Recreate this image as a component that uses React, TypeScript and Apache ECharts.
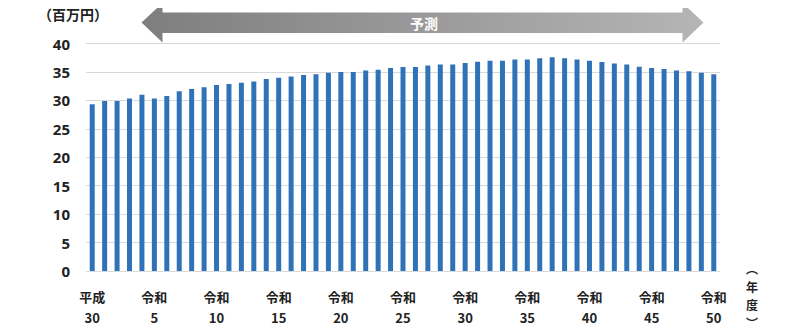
import React, { useEffect, useRef } from "react";
import * as echarts from "echarts";

const eras: string[] = ["平成", ...Array.from({ length: 50 }, () => "令和")];
const yearNums: number[] = [30, ...Array.from({ length: 50 }, (_, i) => i + 1)];
const categories: string[] = eras.map((e, i) => `${e}\n${yearNums[i]}`);

const values: number[] = [
  29.3, 29.9, 29.9, 30.35, 31.0, 30.35, 30.75, 31.6, 32.0, 32.3,
  32.7, 32.9, 33.1, 33.3, 33.75, 34.0, 34.2, 34.45, 34.6, 34.85,
  35.0, 35.0, 35.25, 35.4, 35.7, 35.85, 35.85, 36.15, 36.3, 36.3,
  36.55, 36.8, 36.95, 36.95, 37.2, 37.2, 37.4, 37.6, 37.4, 37.2,
  36.95, 36.75, 36.5, 36.3, 35.9, 35.7, 35.5, 35.25, 35.1, 34.85,
  34.6,
];

const unitLabel = "（百万円）";
const forecastLabel = "予測";
const xAxisUnitChars: string[] = ["︵", "年", "度", "︶"];
const xAxisUnitY: number[] = [268, 286, 304, 322];

export default function App() {
  const ref = useRef<HTMLDivElement>(null);
  useEffect(() => {
    if (!ref.current) return;
    const chart = echarts.init(ref.current, null, { renderer: "svg" });
    chart.setOption({
      animation: false,
      textStyle: { fontFamily: "'Noto Sans CJK JP', 'Noto Sans', sans-serif" },
      grid: { left: 86, right: 66, top: 43.5, bottom: 60, containLabel: false },
      xAxis: {
        type: "category",
        data: categories,
        axisLine: { show: false },
        axisTick: { show: false },
        axisLabel: {
          interval: 4,
          margin: 15,
          fontSize: 13,
          lineHeight: 21,
          fontWeight: "bold",
          color: "#222",
        },
      },
      yAxis: {
        type: "value",
        min: 0,
        max: 40,
        interval: 5,
        axisLine: { show: false },
        axisTick: { show: false },
        splitLine: { lineStyle: { color: "#d9d9d9", width: 1 } },
        axisLabel: {
          margin: 16,
          fontSize: 15,
          fontWeight: "bold",
          color: "#222",
          fontFamily: "'Noto Sans', sans-serif",
        },
      },
      series: [
        {
          type: "bar",
          data: values,
          barWidth: 5,
          itemStyle: { color: "#2F72B8" },
        },
      ],
      graphic: [
        {
          type: "text",
          left: 38,
          top: 7,
          style: {
            text: unitLabel,
            fontSize: 14,
            fontWeight: "bold",
            fill: "#222",
            fontFamily: "'Noto Sans CJK JP', sans-serif",
          },
        },
        {
          type: "polygon",
          shape: {
            points: [
              [141.5, 22.5],
              [162.5, 3],
              [162.5, 12.5],
              [682.5, 12.5],
              [682.5, 3],
              [703.5, 22.5],
              [682.5, 42.5],
              [682.5, 33],
              [162.5, 33],
              [162.5, 42.5],
            ],
          },
          style: {
            fill: new echarts.graphic.LinearGradient(0, 0, 1, 0, [
              { offset: 0, color: "#7e7e7e" },
              { offset: 1, color: "#b5b5b5" },
            ]),
          },
        },
        {
          type: "text",
          x: 424,
          y: 23,
          style: {
            text: forecastLabel,
            fontSize: 14,
            fontWeight: "bold",
            fill: "#ffffff",
            align: "center",
            verticalAlign: "middle",
            fontFamily: "'Noto Sans CJK JP', sans-serif",
          },
        },
        ...xAxisUnitChars.map((ch, i) => ({
          type: "text",
          x: 752,
          y: xAxisUnitY[i],
          style: {
            text: ch,
            fontSize: 12,
            fontWeight: "bold",
            fill: "#222",
            align: "center",
            verticalAlign: "middle",
            fontFamily: "'Noto Sans CJK JP', sans-serif",
          },
        })),
      ],
    });
    return () => chart.dispose();
  }, []);
  return <div ref={ref} style={{ width: 786, height: 331, margin: -8 }} />;
}
